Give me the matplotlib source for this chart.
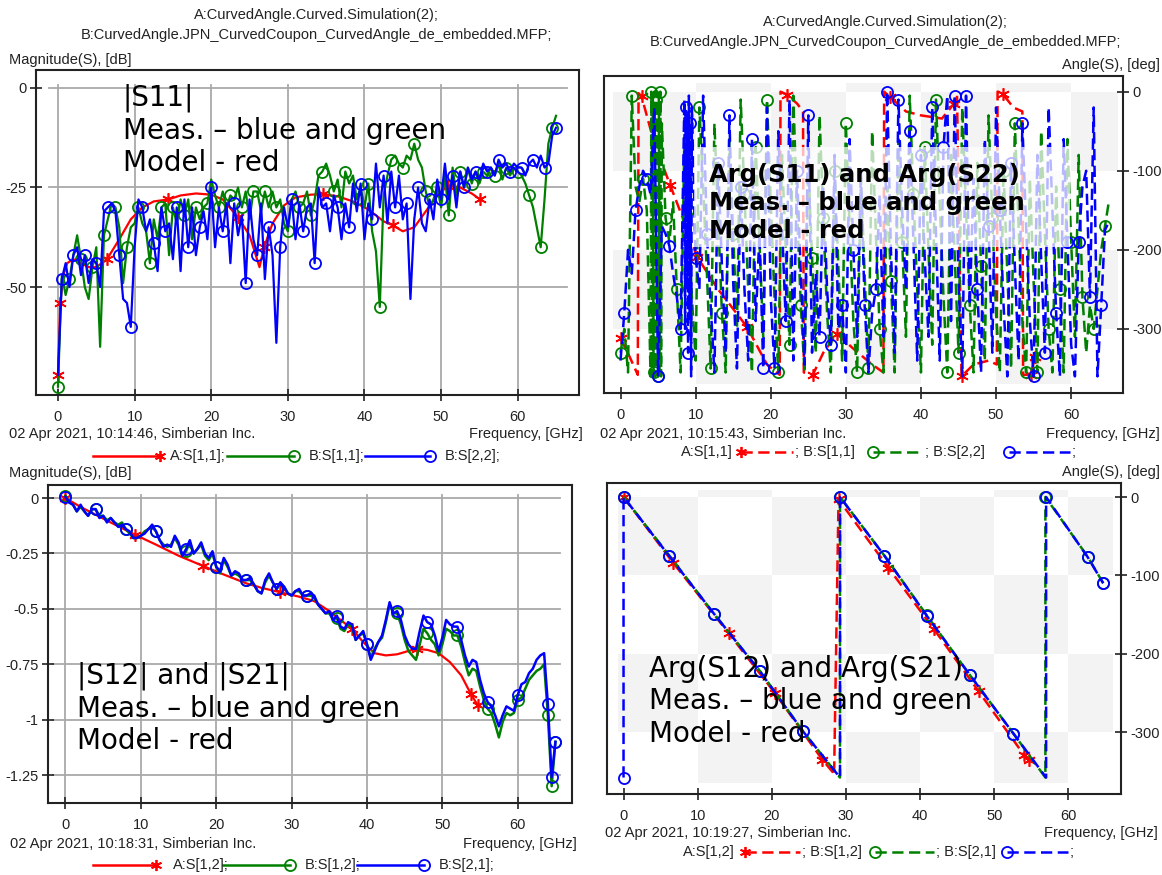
import numpy as np
import matplotlib
matplotlib.use('Agg')
import matplotlib.pyplot as plt
from matplotlib.lines import Line2D
from matplotlib.patches import Rectangle

W, H = 1162, 875
plt.rcParams['font.family'] = ['Liberation Sans', 'DejaVu Sans']
plt.rcParams['axes.unicode_minus'] = False

RED, GREEN, BLUE = '#ff0000', '#008000', '#0000ff'
GRID = '#a9a9a9'
INK = '#222222'
CHECK = '#f3f3f3'
STAR = (6, 2, 0)
DASH = (0, (4.5, 2.2))
SMALL = 10.5

HEADER_A = 'A:CurvedAngle.Curved.Simulation(2);'
HEADER_B = 'B:CurvedAngle.JPN_CurvedCoupon_CurvedAngle_de_embedded.MFP;'

# ── frequency sweep of the measured traces (GHz) ──
freq = np.arange(0, 65.01, 0.5)

# ── |S11|, |S22| in dB ──
s11_mag_meas = [
    -75, -47, -52, -48, -42, -37, -43, -50, -53, -45,
    -40, -65, -37, -33, -29, -30, -35, -49, -40, -35,
    -34, -30, -34, -36, -44, -33, -38, -30, -29, -42,
    -30, -34, -28, -32, -28, -38, -30, -33, -30, -29,
    -23, -27, -30, -26, -30, -27, -28, -25, -30, -26,
    -33, -26, -26, -31, -26, -30, -26, -30, -28, -34,
    -36, -28, -26, -30, -29, -26, -32, -28, -22, -21,
    -19, -22, -26, -23, -30, -21, -24, -22, -28, -25,
    -30, -24, -36, -41, -55, -27, -22, -18, -17, -19,
    -20, -17, -18, -14, -18, -20, -26, -30, -28, -25,
    -30, -22, -32, -20, -27, -21, -25, -20, -24, -21,
    -24, -21, -22, -20, -22, -19, -23, -20, -22, -20,
    -21, -22, -24, -27, -30, -35, -40, -28, -14, -10,
    -7]
s22_mag_meas = [
    -72, -48, -44, -50, -42, -40, -47, -42, -49, -43,
    -44, -50, -31, -30, -29, -31, -42, -53, -54, -60,
    -40, -28, -30, -36, -33, -39, -46, -30, -36, -34,
    -43, -30, -46, -28, -40, -30, -42, -35, -31, -38,
    -25, -40, -30, -36, -29, -44, -29, -37, -32, -49,
    -28, -38, -42, -29, -48, -35, -42, -64, -40, -30,
    -35, -28, -38, -29, -36, -30, -29, -44, -25, -30,
    -29, -36, -27, -30, -38, -29, -35, -24, -31, -24,
    -38, -29, -33, -19, -30, -22, -34, -21, -30, -22,
    -33, -29, -53, -33, -25, -34, -36, -28, -33, -23,
    -28, -19, -28, -22, -30, -21, -25, -20, -23, -21,
    -23, -19, -21, -20, -22, -18, -20, -19, -21, -19,
    -20, -20, -22, -19, -18, -20, -17, -20, -19, -12,
    -10]
s11_model_freq = [0, 0.3, 0.7, 1.2, 2, 3, 4, 5, 6.4, 8, 9.5, 11, 12.5, 14.4, 16, 18, 20,
                  21.5, 23.5, 25, 26.3, 26.9, 28, 29.5, 31, 33, 34.6, 36.5, 38.5, 40.5,
                  42.5, 43.7, 45, 46.5, 48, 49.5, 50.9, 52.5, 54, 55.1]
s11_model_mag = [-72, -54, -47, -44, -43, -44, -45, -45, -43, -38, -33, -30, -28.5, -28,
                 -27, -26.5, -26.8, -28, -32.5, -37, -45, -40, -34, -29.5, -27.5, -26.8,
                 -26.7, -27.2, -28.5, -30.5, -33.5, -34.5, -36, -35, -31, -27, -24.5, -25,
                 -26.5, -28]
s11_model_marks = [0, 1, 8, 13, 18, 21, 26, 31, 36, 39]

# ── |S12|, |S21| in dB ──
s12_mag_meas = [
    0.01, -0.02, -0.03, -0.06, -0.04, -0.06, -0.08, -0.05, -0.05, -0.08,
    -0.08, -0.10, -0.09, -0.11, -0.12, -0.11, -0.14, -0.16, -0.18, -0.18,
    -0.17, -0.15, -0.14, -0.13, -0.15, -0.19, -0.21, -0.22, -0.21, -0.18,
    -0.21, -0.26, -0.24, -0.20, -0.25, -0.23, -0.21, -0.26, -0.28, -0.25,
    -0.31, -0.34, -0.28, -0.31, -0.35, -0.34, -0.35, -0.37, -0.37, -0.37,
    -0.39, -0.42, -0.43, -0.38, -0.35, -0.38, -0.41, -0.39, -0.40, -0.43,
    -0.44, -0.42, -0.42, -0.44, -0.44, -0.44, -0.45, -0.48, -0.50, -0.52,
    -0.52, -0.55, -0.54, -0.59, -0.60, -0.57, -0.58, -0.64, -0.62, -0.61,
    -0.66, -0.72, -0.68, -0.65, -0.63, -0.56, -0.48, -0.52, -0.52, -0.57,
    -0.64, -0.69, -0.71, -0.73, -0.66, -0.59, -0.61, -0.64, -0.66, -0.71,
    -0.66, -0.59, -0.60, -0.62, -0.62, -0.67, -0.74, -0.80, -0.77, -0.78,
    -0.85, -0.91, -0.95, -0.97, -1.02, -1.08, -1.01, -0.97, -0.98, -0.97,
    -0.91, -0.90, -0.86, -0.82, -0.80, -0.78, -0.77, -0.75, -0.98, -1.30,
    -1.10]
s21_mag_meas = [
    0.005, -0.02, -0.03, -0.06, -0.03, -0.06, -0.08, -0.05, -0.05, -0.09,
    -0.08, -0.11, -0.09, -0.11, -0.13, -0.12, -0.14, -0.15, -0.18, -0.18,
    -0.17, -0.16, -0.14, -0.12, -0.15, -0.19, -0.22, -0.21, -0.22, -0.17,
    -0.20, -0.26, -0.23, -0.19, -0.25, -0.23, -0.20, -0.25, -0.27, -0.24,
    -0.31, -0.33, -0.27, -0.30, -0.35, -0.33, -0.34, -0.37, -0.37, -0.36,
    -0.39, -0.42, -0.43, -0.37, -0.34, -0.38, -0.41, -0.38, -0.40, -0.43,
    -0.44, -0.42, -0.41, -0.44, -0.44, -0.43, -0.44, -0.48, -0.50, -0.52,
    -0.51, -0.55, -0.53, -0.58, -0.59, -0.56, -0.57, -0.64, -0.62, -0.60,
    -0.66, -0.73, -0.69, -0.65, -0.62, -0.55, -0.47, -0.52, -0.51, -0.55,
    -0.62, -0.66, -0.68, -0.68, -0.60, -0.53, -0.56, -0.57, -0.62, -0.69,
    -0.63, -0.55, -0.57, -0.58, -0.58, -0.64, -0.71, -0.76, -0.73, -0.74,
    -0.82, -0.88, -0.92, -0.94, -0.98, -1.03, -0.98, -0.94, -0.95, -0.96,
    -0.89, -0.84, -0.83, -0.79, -0.77, -0.73, -0.71, -0.70, -0.93, -1.26,
    -1.10]
s12_model_freq = [0, 2, 4, 6, 9.2, 12, 15, 18.3, 21, 24, 26, 28.5, 31, 33, 35, 36.5, 38,
                  39.5, 41, 42.5, 44, 45.5, 46.6, 48, 49.5, 51, 52.5, 53.8, 54.7]
s12_model_mag = [0, -0.04, -0.075, -0.11, -0.165, -0.21, -0.26, -0.307, -0.345, -0.385,
                 -0.405, -0.425, -0.445, -0.465, -0.51, -0.55, -0.59, -0.65, -0.70, -0.71,
                 -0.705, -0.69, -0.68, -0.685, -0.70, -0.74, -0.80, -0.885, -0.935]
s12_model_marks = [0, 4, 7, 11, 16, 22, 27, 28]
s12_meas_marks = list(range(0, 121, 8)) + [128, 129, 130]

# ── Arg(S11), Arg(S22) in degrees ──
s11_phase_freq = np.concatenate([np.arange(0, 4.0, 0.5), np.arange(4.0, 5.55, 0.1),
                                 np.arange(6.0, 65.01, 0.5)])
s11_phase_meas = [
    -330, -300, -355, -5, -120, -140, -110, -150,
    -360, 0, -360, -5, -355, 0, -360, -10, -350, 0, -360, -5, -355, 0, -360, -40,
    -160, -190, -140, -250, -355, -60, -150, -260, -340, -20,
    -120, -230, -350, -40, -160, -280, -355, -60, -180, -300,
    -10, -130, -250, -355, -70, -190, -310, -10, -140, -260,
    -355, -80, -200, -320, -5, -150, -270, -355, -90, -210,
    -330, -30, -160, -280, -355, -100, -220, -340, -40, -170,
    -290, -355, -110, -230, -350, -50, -180, -300, -355, -120,
    -240, -355, -60, -190, -310, -5, -130, -250, -355, -70,
    -200, -320, -10, -140, -260, -355, -80, -210, -330, -20,
    -150, -270, -355, -90, -220, -340, -30, -160, -280, -355,
    -100, -230, -350, -40, -170, -290, -355, -110, -240, -355,
    -50, -180, -300, -355, -120, -250, -355, -60, -190, -310,
    -80, -260, -330, -270, -300, -250, -200, -170, -140]
s22_phase_freq = np.concatenate([np.arange(0, 8.5, 0.5), np.arange(8.5, 9.55, 0.1),
                                 np.arange(10.0, 65.01, 0.5)])
s22_phase_meas = [
    -340, -280, -200, -230, -150, -120, -100, -110, -130, -20, -360, -170, -180, -195,
    -230, -260, -300,
    -10, -300, -20, -250, -30, -330, -5, -280, -40, -360, -20,
    -210, -250, -5, -180, -270, -355, -90, -220, -330, -30,
    -240, -350, -120, -250, -340, -60, -290, -180, -350, -20,
    -260, -350, -50, -170, -290, -10, -340, -100, -230, -345,
    -30, -330, -230, -310, -120, -250, -320, -80, -300, -270,
    -355, -60, -200, -310, -100, -270, -355, -280, -250, -130,
    -310, 0, -200, -330, -10, -150, -250, -50, -190, -340,
    -80, -210, -310, -20, -180, -340, -70, -5, -290, -5,
    -240, -360, -5, -270, -110, -250, -355, -60, -170, -330,
    -20, -150, -270, -360, -90, -220, -340, -40, -170, -290,
    -360, -80, -210, -330, -20, -150, -280, -360, -60, -190,
    -320, -360, -190, -120, -100, -260, -20, -360, -270, -175, -165]
s11_phase_model_freq = [0, 1.2, 2.3, 2.4, 2.8, 4.5, 6.6, 8.5, 10.2, 13.0,
                        16.8, 19.5, 21.2, 21.3, 22.2, 23.5, 24.3, 24.4, 25.6, 27.0,
                        28.8, 31.0, 33.5, 35.0, 35.1, 35.9, 38.0, 40.0, 42.8, 44.4,
                        44.8, 45.4, 47.0, 49.0, 50.1, 50.2, 50.9, 52.3, 53.5, 53.6,
                        54.6, 55.2]
s11_phase_model = [-312, -335, -358, -2, -6, -65, -118, -165, -209, -250,
                   -297, -345, -358, 0, -4, -15, -25, -355, -358, -330,
                   -306, -325, -345, -355, 0, -7, -25, -30, -34, -15,
                   -5, -360, -345, -340, -345, 0, -3, -20, -25, -358,
                   -358, -335]
s11_phase_model_marks = [0, 4, 6, 8, 10, 14, 18, 20, 25, 29, 31, 36, 40, 41]

# ── Arg(S12), Arg(S21) in degrees ──
s21_phase_freq = [0, 0, 6.2, 12.2, 18.4, 24.2, 29.2, 29.2, 35.2, 40.9, 46.7, 52.6,
                  57.0, 57.0, 62.6, 64.7]
s21_phase_meas = [-358, 0, -75.7, -149, -222.5, -299, -358, 0, -75, -151.5, -227, -302,
                  -358, 0, -76.6, -110]
s21_phase_marks = [0, 1, 2, 3, 4, 5, 7, 8, 9, 10, 11, 13, 14, 15]
s12_phase_freq = [0, 6.2, 12.2, 18.4, 24.2, 29.2, 29.2, 35.2, 40.9, 46.7, 52.6, 56.9,
                  56.9, 62.6, 64.7]
s12_phase_meas = [0, -75, -149, -222, -299, -358, 0, -75, -151, -227, -302, -358, 0,
                  -76, -110]
s12_phase_marks = [0, 1, 2, 3, 4, 6, 7, 8, 9, 10, 12, 13, 14]
s12_phase_model_freq = [0, 6.7, 14.2, 20.4, 26.8, 28.3, 28.4, 29.0, 35.7, 41.9, 47.9,
                        54.0, 54.7, 55.0]
s12_phase_model = [0, -84, -174, -250, -335, -352, -355, -3, -90, -169, -248, -329,
                   -336, -340]
s12_phase_model_marks = [0, 1, 2, 3, 4, 7, 8, 9, 10, 11, 12]

freq_ticks = [0, 10, 20, 30, 40, 50, 60]
s11_ticks = [0, -25, -50]
s12_ticks = [0, -0.25, -0.5, -0.75, -1, -1.25]
phase_ticks = [0, -100, -200, -300]

fig = plt.figure(figsize=(W / 100, H / 100), dpi=100)
fig.patch.set_facecolor('white')


def fx(px):
    return px / W


def fy(py):
    return 1 - py / H


def make_axes(l, t, r, b, xlim, ylim, yticks, right=False):
    ax = fig.add_axes([fx(l), fy(b), (r - l) / W, (b - t) / H])
    ax.set_xlim(*xlim)
    ax.set_ylim(*ylim)
    ax.set_xticks(freq_ticks)
    ax.set_xticklabels([f'{v:g}' for v in freq_ticks])
    ax.set_yticks(yticks)
    ax.set_yticklabels([f'{v:g}' for v in yticks])
    for s in ax.spines.values():
        s.set_color(INK)
        s.set_linewidth(1.5)
    ax.tick_params(direction='inout', length=8, width=1.2, color=INK,
                   labelsize=SMALL, labelcolor=INK)
    ax.tick_params(axis='x', pad=7)
    ax.tick_params(axis='y', pad=3)
    if right:
        ax.yaxis.tick_right()
    return ax


def grid(ax, xticks, yticks, x0, x1, ytop):
    for v in yticks:
        ax.axhline(v, xmin=x0, xmax=x1, color=GRID, lw=1.3, zorder=0.5)
    for v in xticks:
        ax.axvline(v, ymin=0, ymax=ytop, color=GRID, lw=1.3, zorder=0.5)


def checker(ax, xedges, yedges):
    for j in range(len(yedges) - 1):
        for i in range(len(xedges) - 1):
            if (i + j) % 2 == 1:
                ax.add_patch(Rectangle((xedges[i], yedges[j + 1]),
                                       xedges[i + 1] - xedges[i],
                                       yedges[j] - yedges[j + 1],
                                       fc=CHECK, ec='none', zorder=0))


def label(x, y, s, ha='left', **kw):
    fig.text(fx(x), fy(y), s, ha=ha, va='center', fontsize=SMALL, color=INK, **kw)


def legend_item(x0, x1, y, color, ls, marker, mx):
    fig.add_artist(Line2D([fx(x0), fx(x1)], [fy(y), fy(y)], transform=fig.transFigure,
                          color=color, lw=1.8, ls=ls))
    fig.add_artist(Line2D([fx(mx)], [fy(y)], transform=fig.transFigure, color=color,
                          marker=marker, ms=8, mfc='none', mew=1.3, ls='none'))


def note(x, y, s, size, weight='normal'):
    fig.text(fx(x), fy(y), s, ha='left', va='top', fontsize=size, fontweight=weight,
             family='DejaVu Sans', color='black', linespacing=1.2, zorder=5)


mk = dict(ms=8, mfc='none', mew=1.3)

# ── Panel 1: |S11| ──
ax1 = make_axes(36, 70, 579, 395, (-2.87, 68.0), (-77.1, 4.5), s11_ticks)
grid(ax1, freq_ticks, s11_ticks, 0.024, 0.978, 0.955)
ax1.plot(s11_model_freq, s11_model_mag, color=RED, lw=1.6, marker=STAR,
         markevery=s11_model_marks, ms=9, mew=1.2)
ax1.plot(freq, s11_mag_meas, color=GREEN, lw=1.6, marker='o', markevery=3, **mk)
ax1.plot(freq, s22_mag_meas, color=BLUE, lw=1.6, marker='o', markevery=(1, 3), **mk)
label(316, 15, HEADER_A, ha='center')
label(316, 35, HEADER_B, ha='center')
label(9, 60, 'Magnitude(S), [dB]')
label(9, 434, '02 Apr 2021, 10:14:46, Simberian Inc.')
label(583, 434, 'Frequency, [GHz]', ha='right')
legend_item(93, 160, 456, RED, '-', STAR, 160)
label(170, 456, 'A:S[1,1];')
legend_item(227, 294, 456, GREEN, '-', 'o', 294)
label(309, 456, 'B:S[1,1];')
legend_item(365, 430, 456, BLUE, '-', 'o', 430)
label(445, 456, 'B:S[2,2];')
note(123, 84, '|S11|\nMeas. – blue and green\nModel - red', 20)

# ── Panel 2: Arg(S11), Arg(S22) ──
ax2 = make_axes(604, 76, 1123, 393, (-2.2, 66.9), (-381, 19.8), phase_ticks, right=True)
checker(ax2, [-1.0, 10, 20, 30, 40, 50, 60, 66.2], [11, 0, -100, -200, -300, -369])
ax2.plot(s11_phase_model_freq, s11_phase_model, color=RED, lw=1.8, ls=DASH, marker=STAR,
         markevery=s11_phase_model_marks, ms=9, mew=1.2)
ax2.plot(s11_phase_freq, s11_phase_meas, color=GREEN, lw=1.8, ls=DASH, marker='o',
         markevery=3, **mk)
ax2.plot(s22_phase_freq, s22_phase_meas, color=BLUE, lw=1.8, ls=DASH, marker='o',
         markevery=(1, 3), **mk)
fig.add_artist(Rectangle((fx(694), fy(247)), (1070 - 694) / W, (247 - 147) / H,
                         transform=fig.transFigure, fc='white', ec='none', alpha=0.72,
                         zorder=3))
label(885, 22, HEADER_A, ha='center')
label(885, 42, HEADER_B, ha='center')
label(1160, 65, 'Angle(S), [deg]', ha='right')
label(600, 434, '02 Apr 2021, 10:15:43, Simberian Inc.')
label(1160, 434, 'Frequency, [GHz]', ha='right')
label(681, 452, 'A:S[1,1]')
legend_item(741, 793, 452, RED, DASH, STAR, 741)
label(795, 452, '; B:S[1,1]')
legend_item(873, 923, 452, GREEN, DASH, 'o', 873)
label(925, 452, '; B:S[2,2]')
legend_item(1009, 1070, 452, BLUE, DASH, 'o', 1009)
label(1072, 452, ';')
note(709, 163, 'Arg(S11) and Arg(S22)\nMeas. – blue and green\nModel - red', 17.5, 'bold')

# ── Panel 3: |S12|, |S21| ──
ax3 = make_axes(48, 485, 572, 803, (-2.32, 67.2), (-1.376, 0.059), s12_ticks)
grid(ax3, freq_ticks, s12_ticks, 0.0095, 0.977, 0.97)
ax3.plot(s12_model_freq, s12_model_mag, color=RED, lw=1.6, marker=STAR,
         markevery=s12_model_marks, ms=9, mew=1.2)
ax3.plot(freq, s12_mag_meas, color=GREEN, lw=1.8, marker='o', markevery=s12_meas_marks, **mk)
ax3.plot(freq, s21_mag_meas, color=BLUE, lw=1.8, marker='o', markevery=s12_meas_marks, **mk)
label(9, 473, 'Magnitude(S), [dB]')
label(10, 844, '02 Apr 2021, 10:18:31, Simberian Inc.')
label(577, 844, 'Frequency, [GHz]', ha='right')
legend_item(93, 156, 865, RED, '-', STAR, 156)
label(173, 865, 'A:S[1,2];')
legend_item(223, 290, 865, GREEN, '-', 'o', 290)
label(305, 865, 'B:S[1,2];')
legend_item(357, 424, 865, BLUE, '-', 'o', 424)
label(439, 865, 'B:S[2,1];')
note(77, 662, '|S12| and |S21|\nMeas. – blue and green\nModel - red', 20)

# ── Panel 4: Arg(S12), Arg(S21) ──
ax4 = make_axes(607, 483, 1121, 794, (-2.23, 67.1), (-379, 17.9), phase_ticks, right=True)
checker(ax4, [-0.7, 10, 20, 30, 40, 50, 60, 66.0], [9, 0, -100, -200, -300, -365])
ax4.plot(s12_phase_model_freq, s12_phase_model, color=RED, lw=1.8, ls=DASH, marker=STAR,
         markevery=s12_phase_model_marks, ms=9, mew=1.2)
ax4.plot(s12_phase_freq, s12_phase_meas, color=GREEN, lw=1.8, ls=DASH, marker='o',
         markevery=s12_phase_marks, **mk)
ax4.plot(s21_phase_freq, s21_phase_meas, color=BLUE, lw=1.8, ls=DASH, marker='o',
         markevery=s21_phase_marks, **mk)
label(1160, 472, 'Angle(S), [deg]', ha='right')
label(605, 833, '02 Apr 2021, 10:19:27, Simberian Inc.')
label(1158, 833, 'Frequency, [GHz]', ha='right')
label(683, 852, 'A:S[1,2]')
legend_item(745, 800, 852, RED, DASH, STAR, 745)
label(802, 852, '; B:S[1,2]')
legend_item(875, 934, 852, GREEN, DASH, 'o', 875)
label(936, 852, '; B:S[2,1]')
legend_item(1007, 1068, 852, BLUE, DASH, 'o', 1007)
label(1070, 852, ';')
note(649, 655, 'Arg(S12) and Arg(S21)\nMeas. – blue and green\nModel - red', 20)

fig.savefig('out.png', dpi=100, facecolor='white')
